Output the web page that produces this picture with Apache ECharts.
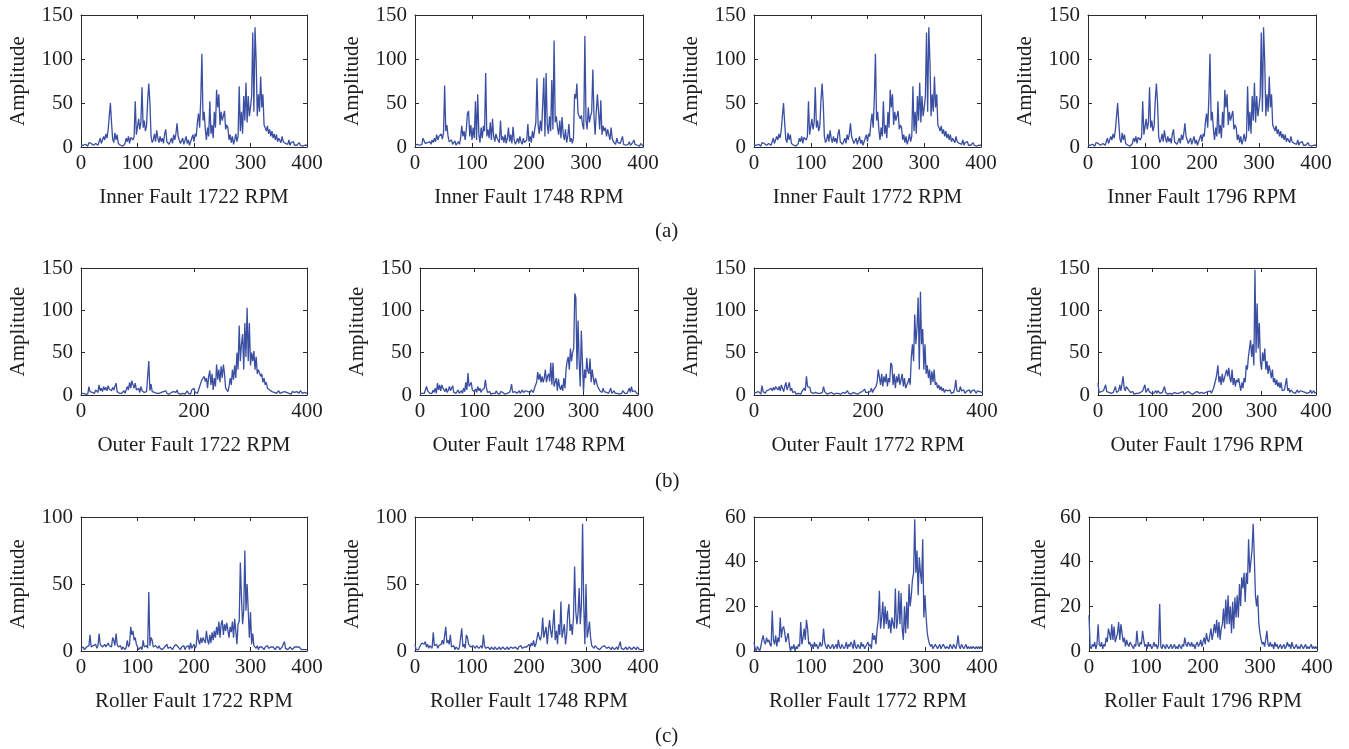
<!DOCTYPE html>
<html>
<head>
<meta charset="utf-8">
<script src="https://cdn.jsdelivr.net/npm/echarts@6/dist/echarts.min.js"></script>
<style>
html,body{margin:0;padding:0;background:#fff;}
#chart{width:1349px;height:749px;}
</style>
</head>
<body>
<div id="chart"></div>
<script>
// Frequency sampling: one value every 2 units, from 0 to 400
const FREQ_STEP = 2;

// Panel titles
const titlesInner = ['Inner Fault 1722 RPM','Inner Fault 1748 RPM','Inner Fault 1772 RPM','Inner Fault 1796 RPM'];
const titlesOuter = ['Outer Fault 1722 RPM','Outer Fault 1748 RPM','Outer Fault 1772 RPM','Outer Fault 1796 RPM'];
const titlesRoller = ['Roller Fault 1722 RPM','Roller Fault 1748 RPM','Roller Fault 1772 RPM','Roller Fault 1796 RPM'];
const rowLabels = ['(a)','(b)','(c)'];

// Tick settings
const yMaxInner = 150, yIntInner = 50;
const yMaxOuter = 150, yIntOuter = 50;
const yMaxRoller = [100, 100, 60, 60];
const yIntRoller = [50, 50, 20, 20];
const xIntOuter = [200, 100, 200, 100];

// Inner fault spectra (1722, 1772 and 1796 RPM panels are identical in the figure)
const inner1722 = [
2,1,2,1,3,2,1,5,7,4,
3,2,2,4,3,2,3,10,4,6,
12,8,15,10,19,17,50,28,9,5,
16,8,14,4,6,2,3,1,2,4,
10,6,12,4,11,13,8,12,52,14,
12,32,20,28,68,22,30,18,24,53,
72,50,12,5,8,15,6,19,10,5,
12,6,10,4,15,20,6,8,3,5,
10,4,14,8,15,27,12,8,4,6,
10,3,5,12,4,8,2,6,10,14,
6,15,12,28,38,22,55,106,30,40,
20,8,22,12,52,15,25,10,40,22,
65,45,60,25,40,30,28,41,20,25,
22,8,14,5,12,3,8,15,6,12,
69,18,40,15,58,30,73,28,58,35,
45,58,130,40,136,98,35,60,40,80,
45,60,25,22,18,24,15,20,12,18,
10,15,8,14,6,10,8,5,12,6,
8,4,6,3,8,2,5,3,6,2,
4,2,3,5,2,4,1,3,2,1,
2];
const inner1772 = inner1722;
const inner1796 = inner1722;
const inner1748 = [
2,1,3,1,2,4,3,10,7,4,
3,5,4,6,3,8,5,10,6,14,
8,12,10,15,9,16,70,18,25,12,
6,4,8,3,5,7,2,4,6,3,
10,24,12,18,8,20,38,41,12,25,
8,22,10,52,8,60,15,5,22,10,
24,18,84,12,20,10,28,8,32,12,
6,15,10,8,5,30,8,12,5,14,
4,10,22,6,14,4,23,8,3,6,
10,4,12,6,3,10,5,4,8,26,
6,12,5,18,10,20,28,78,25,15,
30,18,20,79,12,84,25,15,35,18,
76,20,121,28,35,22,14,30,10,34,
15,8,20,5,12,26,6,10,4,10,
60,55,72,38,40,32,36,25,20,126,
30,20,45,28,35,40,88,35,14,40,
60,58,20,53,14,24,18,22,12,20,
14,8,22,10,6,8,3,10,5,6,
4,8,12,3,5,2,4,3,6,2,
3,5,8,3,4,2,3,1,4,2,
1];

// Outer fault spectra
const outer1722 = [
2,1,2,3,1,2,1,10,4,2,
3,5,2,6,4,3,12,5,8,4,
10,6,9,5,11,7,8,5,9,6,
8,14,4,3,2,4,2,3,5,2,
4,10,6,15,8,17,12,8,14,6,
4,8,3,10,5,7,3,5,4,3,
40,5,13,4,2,3,1,2,4,2,
1,3,2,4,2,5,2,3,1,2,
3,2,4,2,3,6,2,4,1,3,
2,4,1,3,5,2,3,1,6,4,
8,3,5,2,6,10,14,18,20,22,
16,20,8,22,29,12,25,6,20,10,
36,18,30,15,34,20,36,25,8,6,
4,10,20,12,30,18,35,20,50,30,
82,40,60,72,30,85,45,103,40,85,
35,50,40,52,30,45,25,30,28,22,
25,15,20,12,15,8,10,6,8,4,
5,3,4,2,3,5,2,4,3,2,
4,2,3,5,2,3,1,4,2,3,
2,4,3,2,5,3,2,4,3,5,
2];
const outer1748 = [
2,2,2,3,2,2,10,5,3,2,
4,2,6,3,8,2,14,6,12,5,
12,8,10,4,8,3,6,10,5,7,
11,3,5,2,4,6,2,3,5,2,
8,4,15,6,26,10,8,15,6,8,
4,7,3,10,5,8,3,6,4,8,
18,8,3,2,4,1,3,2,4,2,
5,2,3,1,4,2,3,2,1,3,
2,4,3,6,13,3,2,4,5,2,
3,5,2,4,6,3,2,5,3,4,
5,3,6,4,3,8,6,15,27,18,
25,15,22,15,20,30,15,22,25,16,
38,12,38,10,15,20,5,19,10,6,
12,5,20,8,30,40,45,30,55,40,
50,55,120,115,30,88,40,10,76,40,
4,30,20,44,28,25,43,15,30,20,
12,20,15,10,8,5,7,3,8,4,
6,3,5,2,4,8,2,3,5,2,
3,2,4,1,3,2,5,3,2,4,
2,5,8,3,10,4,2,5,3,2,
1];
const outer1772 = [
2,1,3,2,4,2,1,11,4,3,
2,5,3,6,4,8,5,9,6,10,
12,6,10,5,12,8,4,10,15,6,
10,15,5,8,3,2,4,1,3,2,
3,1,4,6,8,5,22,10,8,9,
3,5,2,4,3,5,2,3,2,4,
3,10,4,2,1,3,2,1,3,2,
1,3,2,1,2,3,1,2,3,1,
2,3,5,2,4,1,2,3,1,2,
3,1,2,3,2,4,2,7,3,2,
3,5,4,8,3,6,5,10,15,30,
28,12,25,10,22,15,25,10,20,15,
38,35,12,25,8,22,15,25,12,18,
25,10,20,8,10,15,20,12,45,60,
40,95,60,80,115,30,122,60,78,30,
60,25,35,20,30,12,28,15,30,12,
15,8,12,6,10,5,8,3,6,4,
5,3,6,2,4,3,7,18,5,3,
4,10,5,3,6,2,4,5,3,6,
2,5,3,6,4,2,5,3,4,2,
3];
const outer1796 = [
14,3,2,4,2,5,3,12,4,2,
3,5,2,4,3,4,10,3,4,5,
12,5,4,22,8,5,10,12,6,4,
3,2,4,1,3,2,4,2,1,3,
2,5,3,12,3,2,8,4,3,2,
4,2,3,5,2,5,3,2,4,3,
2,10,3,2,1,3,2,4,1,2,
3,1,2,4,2,1,3,2,4,1,
2,3,1,4,5,2,3,1,2,3,
2,4,3,2,1,3,5,2,4,3,
2,4,3,5,2,4,8,10,18,25,
35,15,22,12,25,15,20,18,30,22,
32,20,15,30,12,20,10,18,15,20,
12,5,15,8,20,15,35,30,45,55,
65,45,60,35,148,50,108,55,85,40,
30,50,40,55,30,40,25,35,28,20,
30,15,20,12,18,10,15,8,15,5,
3,6,4,20,5,8,3,6,4,3,
5,2,4,6,3,2,5,3,4,2,
3,5,2,4,3,6,2,3,5,2,
3];

// Roller fault spectra
const roller1722 = [
2,1,3,1,2,3,2,4,12,3,
2,4,3,5,2,4,13,5,4,3,
4,5,3,4,6,4,5,3,10,8,
4,13,5,3,2,4,1,3,2,1,
3,8,3,5,18,12,15,8,10,5,
3,1,2,3,1,8,3,2,4,2,
44,4,10,8,3,2,4,3,2,4,
2,3,1,2,3,4,5,2,1,3,
2,1,3,2,5,4,3,2,1,3,
2,4,1,3,2,4,1,6,2,3,
5,2,4,16,8,5,10,6,10,8,
6,15,8,5,12,6,14,8,15,10,
18,12,22,10,20,23,12,20,15,21,
20,10,18,14,22,10,24,15,5,20,
22,66,40,20,30,75,30,50,30,10,
29,5,13,4,3,2,4,1,3,2,
3,2,1,3,2,4,2,1,3,2,
3,2,1,3,2,3,1,2,3,2,
7,2,3,1,2,3,2,1,2,3,
2,3,2,3,2,1,2,1,0,1,
1];
const roller1748 = [
5,1,2,1,3,2,6,7,5,7,
3,5,2,4,3,2,14,4,3,5,
2,4,3,5,8,5,4,18,6,8,
5,12,3,2,4,1,3,2,1,3,
2,17,3,5,2,12,10,5,6,3,
2,4,3,2,4,3,2,3,4,2,
12,4,2,1,3,2,1,3,2,1,
3,2,1,2,3,1,2,3,2,1,
2,3,1,2,3,4,2,1,3,2,
1,3,2,4,2,1,3,2,3,2,
5,3,6,4,8,3,5,4,14,10,
8,12,25,10,14,18,5,15,23,15,
10,20,31,8,15,5,20,12,37,10,
15,20,5,12,28,35,15,20,12,25,
63,30,20,28,47,20,35,95,35,5,
50,10,15,22,10,4,3,2,4,3,
2,3,1,2,3,2,4,3,2,3,
3,2,1,3,2,1,2,3,1,2,
7,2,3,1,2,3,1,2,3,2,
1,2,3,2,1,3,2,1,2,1,
1];
const roller1772 = [
4,1,0,2,1,0,2,5,7,4,
3,6,4,5,3,2,18,5,3,7,
2,6,4,15,6,10,11,8,4,6,
8,3,0,2,1,3,0,2,1,3,
2,13,3,6,10,5,14,10,3,4,
2,3,1,4,2,3,1,2,4,2,
3,10,4,2,1,3,2,1,2,3,
1,2,3,1,5,2,1,3,2,1,
2,4,1,3,2,4,3,1,5,2,
1,3,2,1,4,2,3,1,2,3,
4,2,3,1,8,5,7,3,10,14,
27,10,15,22,10,20,12,18,10,14,
8,15,12,10,28,10,14,27,12,26,
10,5,20,8,22,10,30,20,25,32,
35,59,35,45,25,42,35,30,50,15,
25,15,8,5,3,2,3,1,2,3,
3,1,2,3,1,2,3,2,1,2,
2,1,3,2,1,3,2,1,3,7,
2,1,3,2,1,2,3,1,2,1,
2,1,2,2,1,2,1,2,1,2,
1];
const roller1796 = [
16,2,1,3,2,4,1,3,12,3,
2,4,1,3,2,6,4,10,8,5,
12,5,11,4,6,8,13,5,12,8,
4,6,2,5,3,2,4,3,2,1,
3,2,9,3,2,4,3,9,5,2,
3,1,4,2,3,1,2,4,2,3,
1,3,21,2,1,3,2,1,3,2,
1,2,3,1,2,3,1,2,1,3,
2,1,3,2,6,3,2,4,3,2,
4,2,3,1,3,4,2,3,5,2,
4,6,3,8,5,4,7,10,5,8,
12,8,14,6,13,5,10,12,19,10,
23,12,25,12,20,8,22,10,24,15,
25,15,30,20,33,28,35,22,35,30,
50,35,40,45,57,42,25,20,25,12,
8,5,3,4,2,5,9,3,2,4,
2,3,1,4,2,3,1,2,3,1,
2,3,1,2,4,2,3,1,4,2,
1,2,3,1,2,1,3,2,1,2,
3,1,2,1,2,3,1,2,1,2,
1];

// ---------------- layout ----------------
const FONT = '"Liberation Serif","DejaVu Serif",serif';
const LINE_COLOR = '#3a4fa2';
const AXIS_COLOR = '#2b2b2b';
const TEXT_COLOR = '#1e1e1e';

const rowBoxes = [{top:15,height:132},{top:268,height:127},{top:517,height:134}];
const colBoxes = [
  [[81,226],[415,228],[754,227],[1088,228]],
  [[81,226],[420,218],[754,228],[1098,218]],
  [[81,226],[415,228],[754,228],[1089,228]]
];

const panels = [
  {title:titlesInner[0], data:inner1722, ymax:yMaxInner, yint:yIntInner, xint:100},
  {title:titlesInner[1], data:inner1748, ymax:yMaxInner, yint:yIntInner, xint:100},
  {title:titlesInner[2], data:inner1772, ymax:yMaxInner, yint:yIntInner, xint:100},
  {title:titlesInner[3], data:inner1796, ymax:yMaxInner, yint:yIntInner, xint:100},
  {title:titlesOuter[0], data:outer1722, ymax:yMaxOuter, yint:yIntOuter, xint:xIntOuter[0]},
  {title:titlesOuter[1], data:outer1748, ymax:yMaxOuter, yint:yIntOuter, xint:xIntOuter[1]},
  {title:titlesOuter[2], data:outer1772, ymax:yMaxOuter, yint:yIntOuter, xint:xIntOuter[2]},
  {title:titlesOuter[3], data:outer1796, ymax:yMaxOuter, yint:yIntOuter, xint:xIntOuter[3]},
  {title:titlesRoller[0], data:roller1722, ymax:yMaxRoller[0], yint:yIntRoller[0], xint:100},
  {title:titlesRoller[1], data:roller1748, ymax:yMaxRoller[1], yint:yIntRoller[1], xint:100},
  {title:titlesRoller[2], data:roller1772, ymax:yMaxRoller[2], yint:yIntRoller[2], xint:100},
  {title:titlesRoller[3], data:roller1796, ymax:yMaxRoller[3], yint:yIntRoller[3], xint:100}
];

const grid = [], xAxis = [], yAxis = [], series = [];
const tickStyle = {show:true, inside:true, length:4, lineStyle:{color:AXIS_COLOR, width:1}};
const lineStyleAx = {show:true, onZero:false, lineStyle:{color:AXIS_COLOR, width:1}};
const labelStyle = {fontSize:21, fontFamily:FONT, color:TEXT_COLOR};

panels.forEach((p, i) => {
  const r = Math.floor(i / 4), c = i % 4;
  const [left, width] = colBoxes[r][c];
  grid.push({left:left, top:rowBoxes[r].top, width:width, height:rowBoxes[r].height, containLabel:false});
  const xa = {type:'value', gridIndex:i, min:0, max:400, interval:p.xint, splitLine:{show:false}};
  xAxis.push(Object.assign({}, xa, {
    position:'bottom', axisLine:lineStyleAx, axisTick:tickStyle,
    axisLabel:Object.assign({margin:6, showMinLabel:true, showMaxLabel:true}, labelStyle),
    name:p.title, nameLocation:'middle', nameGap:40,
    nameTextStyle:Object.assign({}, labelStyle)
  }));
  xAxis.push(Object.assign({}, xa, {
    position:'top', axisLine:lineStyleAx, axisTick:tickStyle, axisLabel:{show:false}
  }));
  const threeDigit = p.ymax >= 100;
  const ya = {type:'value', gridIndex:i, min:0, max:p.ymax, interval:p.yint, splitLine:{show:false}};
  yAxis.push(Object.assign({}, ya, {
    position:'left', axisLine:lineStyleAx, axisTick:tickStyle,
    axisLabel:Object.assign({margin:8, showMinLabel:true, showMaxLabel:true}, labelStyle),
    name:'Amplitude', nameLocation:'middle', nameGap: threeDigit ? 52 : 39,
    nameTextStyle:Object.assign({}, labelStyle)
  }));
  yAxis.push(Object.assign({}, ya, {
    position:'right', axisLine:lineStyleAx, axisTick:tickStyle, axisLabel:{show:false}
  }));
  series.push({
    type:'line', xAxisIndex:2*i, yAxisIndex:2*i,
    data:p.data.map((v, k) => [k * FREQ_STEP, v]),
    showSymbol:false, symbol:'none', silent:true,
    lineStyle:{color:LINE_COLOR, width:1.3},
    clip:true
  });
});

const graphic = rowLabels.map((t, k) => ({
  type:'text', left:655, top:[221, 471, 726][k],
  style:{text:t, font:'21px ' + FONT, fill:TEXT_COLOR}
}));

const chart = echarts.init(document.getElementById('chart'), null, {renderer:'canvas'});
chart.setOption({
  animation:false,
  backgroundColor:'#ffffff',
  grid:grid, xAxis:xAxis, yAxis:yAxis, series:series, graphic:graphic
});
</script>
</body>
</html>
